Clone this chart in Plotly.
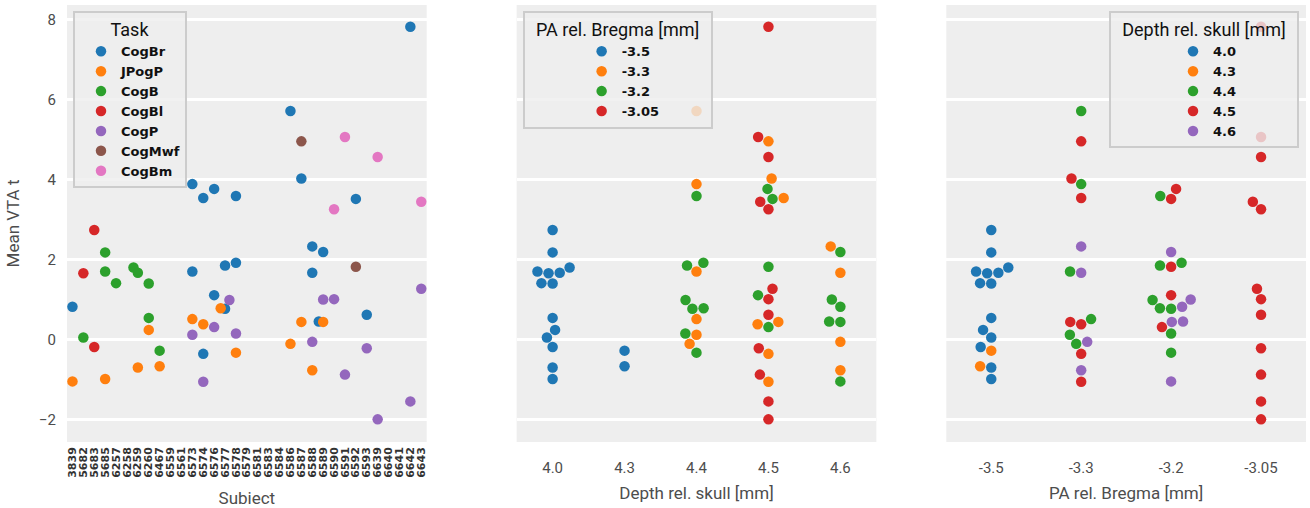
import numpy as np
import plotly.graph_objects as go

# ---------------- data ----------------
SUBJECTS = ["3839", "5682", "5683", "5685", "6257", "6258", "6259", "6260", "6467",
            "6559", "6561", "6573", "6574", "6576", "6577", "6578", "6579", "6581",
            "6583", "6584", "6586", "6587", "6588", "6589", "6590", "6591", "6592",
            "6593", "6639", "6640", "6641", "6642", "6643"]

TASKS = ["CogBr", "JPogP", "CogB", "CogBl", "CogP", "CogMwf", "CogBm"]
DEPTHS = [4.0, 4.3, 4.4, 4.5, 4.6]
DEPTH_LABELS = ["4.0", "4.3", "4.4", "4.5", "4.6"]
PAS = [-3.5, -3.3, -3.2, -3.05]
PA_LABELS = ["-3.5", "-3.3", "-3.2", "-3.05"]

# stereotaxic location of each recorded subject
LOC_SUBJECT = ["3839", "5682", "5683", "5685", "6257", "6259", "6260", "6467", "6573",
               "6574", "6576", "6577", "6578", "6586", "6587", "6588", "6589", "6590",
               "6591", "6592", "6593", "6639", "6642", "6643"]
LOC_DEPTH = [4.6, 4.0, 4.0, 4.0, 4.0, 4.0, 4.0, 4.3, 4.4,
             4.5, 4.5, 4.4, 4.4, 4.4, 4.5, 4.6, 4.6, 4.5,
             4.5, 4.5, 4.5, 4.5, 4.5, 4.5]
LOC_PA = [-3.2, -3.5, -3.5, -3.5, -3.5, -3.5, -3.5, -3.5, -3.3,
          -3.3, -3.2, -3.2, -3.2, -3.3, -3.3, -3.3, -3.2, -3.05,
          -3.05, -3.2, -3.05, -3.05, -3.05, -3.05]

PT_SUBJECT = ["3839", "3839", "5682", "5682", "5683", "5683", "5685", "5685", "5685",
              "6257", "6259", "6259", "6259", "6260", "6260", "6260", "6467", "6467",
              "6573", "6573", "6573", "6573", "6574", "6574", "6574", "6574",
              "6576", "6576", "6576", "6577", "6577", "6577", "6577",
              "6578", "6578", "6578", "6578", "6586", "6586", "6587", "6587", "6587",
              "6588", "6588", "6588", "6588", "6589", "6589", "6589", "6589",
              "6590", "6590", "6591", "6591", "6592", "6592", "6593", "6593",
              "6639", "6639", "6642", "6642", "6643", "6643"]
PT_TASK = ["CogBr", "JPogP", "CogBl", "CogB", "CogBl", "CogBl", "CogB", "CogB", "JPogP",
           "CogB", "CogB", "CogB", "JPogP", "CogB", "CogB", "JPogP", "CogB", "JPogP",
           "CogBr", "CogBr", "JPogP", "CogP", "CogBr", "JPogP", "CogBr", "CogP",
           "CogBr", "CogBr", "CogP", "CogBr", "CogP", "CogBr", "JPogP",
           "CogBr", "CogBr", "CogP", "JPogP", "CogBr", "JPogP", "CogMwf", "CogBr", "JPogP",
           "CogBr", "CogBr", "CogP", "JPogP", "CogBr", "CogP", "CogBr", "JPogP",
           "CogBm", "CogP", "CogBm", "CogP", "CogBr", "CogMwf", "CogBr", "CogP",
           "CogBm", "CogP", "CogBr", "CogP", "CogBm", "CogP"]
PT_VALUE = [0.82, -1.05, 1.66, 0.05, 2.74, -0.19, 2.18, 1.70, -0.99,
            1.41, 1.80, 1.67, -0.70, 1.40, 0.54, 0.24, -0.28, -0.67,
            3.89, 1.70, 0.51, 0.12, 3.54, 0.38, -0.36, -1.06,
            3.77, 1.11, 0.31, 1.85, 0.99, 0.77, 0.78,
            3.59, 1.92, 0.15, -0.33, 5.72, -0.11, 4.96, 4.03, 0.44,
            2.33, 1.67, -0.06, -0.77, 2.19, 1.00, 0.45, 0.44,
            3.26, 1.01, 5.07, -0.88, 3.52, 1.82, 0.62, -0.22,
            4.57, -2.00, 7.83, -1.55, 3.45, 1.27]

COLORS = ["#1f77b4", "#ff7f0e", "#2ca02c", "#d62728", "#9467bd", "#8c564b", "#e377c2"]

# ---------------- geometry ----------------
W, H = 1310, 508
ML, MR, MT, MB = 67, 3, 5, 64
PW = W - ML - MR          # 1240
PH = H - MT - MB          # 439
PANEL_W = 360
Y_RANGE = [-2.567, 8.374]
KY = PH / (Y_RANGE[1] - Y_RANGE[0])
DOT = 10.5
SWARM_D = 11.2

vals = np.array(PT_VALUE)
loc_d = dict(zip(LOC_SUBJECT, LOC_DEPTH))
loc_p = dict(zip(LOC_SUBJECT, LOC_PA))
subj_pos = np.array([SUBJECTS.index(s) for s in PT_SUBJECT], dtype=float)
depth_pos = np.array([DEPTHS.index(loc_d[s]) for s in PT_SUBJECT], dtype=float)
pa_pos = np.array([PAS.index(loc_p[s]) for s in PT_SUBJECT], dtype=float)
depth_of = np.array([loc_d[s] for s in PT_SUBJECT])
pa_of = np.array([loc_p[s] for s in PT_SUBJECT])
task_of = np.array(PT_TASK)


def swarm(pos, values, px_per_cat, d=SWARM_D, width=0.8):
    """seaborn-like beeswarm; returns offsets in category units"""
    off = np.zeros(len(values))
    half = width / 2 * px_per_cat
    for c in np.unique(pos):
        idx = [i for i in np.argsort(values, kind="stable") if pos[i] == c]
        placed = []
        for i in idx:
            y = values[i] * KY
            neigh = [(px, py) for px, py in placed if abs(py - y) < d]
            lefts, rights = [], []
            for px, py in neigh:
                dx = np.sqrt(max(d * d - (py - y) ** 2, 0.0))
                lefts.append(px - dx)
                rights.append(px + dx)
            cands = sorted([0.0] + lefts + rights, key=lambda v: abs(v))
            chosen = cands[-1]
            for cx in cands:
                if all((cx - px) ** 2 + (y - py) ** 2 >= d * d - 1e-6 for px, py in neigh):
                    chosen = cx
                    break
            placed.append((chosen, y))
            off[i] = np.clip(chosen, -half, half) / px_per_cat
    return off


x1 = subj_pos + swarm(subj_pos, vals, PANEL_W / len(SUBJECTS))
x2 = depth_pos + swarm(depth_pos, vals, PANEL_W / len(DEPTHS))
x3 = pa_pos + swarm(pa_pos, vals, PANEL_W / len(PAS))

fig = go.Figure()
mk = lambda c: dict(color=c, size=DOT, line=dict(width=0))

for k, t in enumerate(TASKS):
    m = task_of == t
    fig.add_trace(go.Scatter(x=x1[m], y=vals[m], mode="markers", name=t,
                             marker=mk(COLORS[k]), xaxis="x", yaxis="y",
                             legend="legend", cliponaxis=False))
for k, p in enumerate(PAS):
    m = pa_of == p
    fig.add_trace(go.Scatter(x=x2[m], y=vals[m], mode="markers", name=PA_LABELS[k],
                             marker=mk(COLORS[k]), xaxis="x2", yaxis="y2",
                             legend="legend2", cliponaxis=False))
for k, dpt in enumerate(DEPTHS):
    m = depth_of == dpt
    fig.add_trace(go.Scatter(x=x3[m], y=vals[m], mode="markers", name=DEPTH_LABELS[k],
                             marker=mk(COLORS[k]), xaxis="x3", yaxis="y3",
                             legend="legend3", cliponaxis=False))

TXT = "Roboto, sans-serif"
BOLD = "DejaVu Sans, sans-serif"
tickf = dict(family=TXT, size=15, color="#4d4d4d")
titlef = dict(family=TXT, size=17, color="#4d4d4d")
BG = "#eeeeee"
PAD = "\u00a0\u00a0"

def xax(dom, n, labels, title, standoff=None, **kw):
    t = dict(text=title, font=titlef)
    if standoff is not None:
        t["standoff"] = standoff
    d = dict(domain=dom, range=[-0.5, n - 0.5], tickmode="array",
             tickvals=list(range(n)), ticktext=labels, showgrid=False,
             zeroline=False, showline=False, ticks="", tickfont=tickf,
             title=t, fixedrange=True)
    d.update(kw)
    return d

def yax(anchor, show, **kw):
    d = dict(range=Y_RANGE, tickvals=[-2, 0, 2, 4, 6, 8],
             ticktext=["\u22122", "0", "2", "4", "6", "8"],
             showticklabels=show, gridcolor="white", gridwidth=2.5,
             zeroline=False, showline=False, ticks="", anchor=anchor,
             tickfont=tickf, ticklabelstandoff=10)
    d.update(kw)
    return d

def leg(x, y, title, indent, xanchor="left"):
    return dict(x=x, y=y, xanchor=xanchor, yanchor="top",
                bgcolor="rgba(238,238,238,0.8)", bordercolor="#cccccc", borderwidth=2,
                title=dict(text=title, side="top center",
                           font=dict(family=TXT, size=18, color="#111", weight="normal")),
                font=dict(family=BOLD, size=13, color="#111", weight="bold"),
                indentation=indent, itemsizing="trace")

fig.update_layout(
    width=W, height=H, margin=dict(l=ML, r=MR, t=MT, b=MB),
    paper_bgcolor="white", plot_bgcolor=BG,
    xaxis=xax([0, PANEL_W / PW], len(SUBJECTS), SUBJECTS, "Subiect",
              tickangle=-90, ticklabelstandoff=2,
              tickfont=dict(family=BOLD, size=11, color="#333", weight="bold")),
    xaxis2=xax([450 / PW, 810 / PW], len(DEPTHS), DEPTH_LABELS,
               "Depth rel. skull [mm]", standoff=11, anchor="y2", ticklabelstandoff=15),
    xaxis3=xax([880 / PW, 1.0], len(PAS), PA_LABELS,
               "PA rel. Bregma [mm]", standoff=11, anchor="y3", ticklabelstandoff=15),
    yaxis=yax("x", True, title=dict(text="Mean VTA t", font=titlef)),
    yaxis2=yax("x2", False, matches="y"),
    yaxis3=yax("x3", False, matches="y"),
    legend=leg((73 - ML) / PW, 1 - 6 / PH, "Task", 6),
    legend2=leg((523 - ML) / PW, 1 - 6 / PH, PAD + "PA rel. Bregma [mm]" + PAD, 57),
    legend3=leg((1300 - ML) / PW, 1 - 6 / PH, PAD + "Depth rel. skull [mm]" + PAD, 62, "right"),
    showlegend=True,
)

fig.write_html("out.html")
